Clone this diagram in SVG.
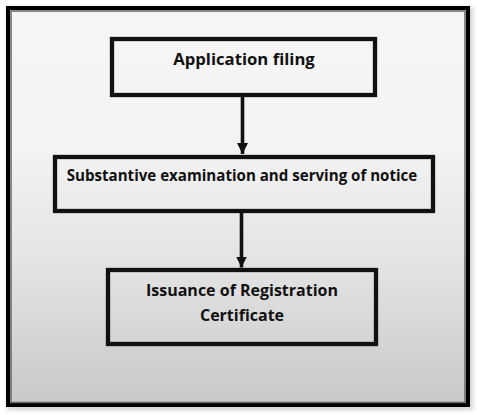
<svg xmlns="http://www.w3.org/2000/svg" width="477" height="415" viewBox="0 0 477 415">
<defs>
<linearGradient id="bg" x1="0" y1="0" x2="0" y2="1">
<stop offset="0" stop-color="#f6f6f6"/>
<stop offset="0.35" stop-color="#f3f3f3"/>
<stop offset="0.65" stop-color="#e3e3e3"/>
<stop offset="1" stop-color="#c8c8c8"/>
</linearGradient>
<filter id="sh" x="-5%" y="-5%" width="110%" height="110%">
<feGaussianBlur stdDeviation="2"/>
</filter>
<marker id="ah" markerUnits="userSpaceOnUse" markerWidth="12" markerHeight="12" refX="11" refY="6" orient="auto">
<path d="M0,0.5 L11,6 L0,11.5 Z" fill="#111"/>
</marker>
</defs>
<style>
.box{fill:none;stroke:#111;stroke-width:4.3}
.lbl{font-family:"Open Sans","Noto Sans",sans-serif;font-weight:bold;fill:#111;text-anchor:middle}
.conn{stroke:#111;stroke-width:3.6;fill:none}
</style>
<rect x="0" y="0" width="477" height="415" fill="#ffffff"/>
<g id="frame">
<rect x="7" y="7" width="466" height="403" fill="#a8a8a8" opacity="0.5" filter="url(#sh)"/>
<rect x="8" y="8" width="460" height="397" fill="url(#bg)" stroke="#000" stroke-width="4"/>
<rect x="11" y="11" width="454" height="391.5" fill="none" stroke="#666" stroke-width="1.5"/>
</g>
<g id="connectors">
<line class="conn" x1="242.5" y1="97" x2="242.5" y2="154" marker-end="url(#ah)"/>
<line class="conn" x1="241.5" y1="213" x2="241.5" y2="267.5" marker-end="url(#ah)"/>
</g>
<g id="node-application">
<rect class="box" x="112" y="39" width="263" height="56"/>
<text class="lbl" x="244" y="65" font-size="16.7">Application filing</text>
</g>
<g id="node-examination">
<rect class="box" x="55" y="157" width="378" height="54"/>
<text class="lbl" x="242" y="180.5" font-size="15.1">Substantive examination and serving of notice</text>
</g>
<g id="node-certificate">
<rect class="box" x="108" y="270" width="268" height="74"/>
<text class="lbl" x="242" y="296" font-size="16">Issuance of Registration</text>
<text class="lbl" x="242" y="321" font-size="16">Certificate</text>
</g>
</svg>
